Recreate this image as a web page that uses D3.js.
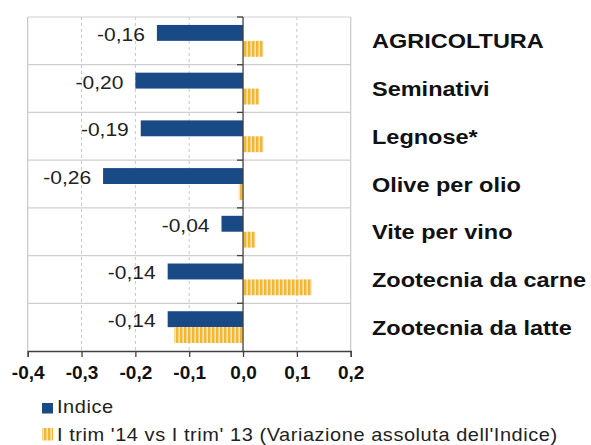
<!DOCTYPE html>
<html>
<head>
<meta charset="utf-8">
<script src="https://cdn.jsdelivr.net/npm/d3@7"></script>
<style>
  html, body { margin: 0; padding: 0; background: #fff; }
  svg { display: block; font-family: "Liberation Sans", Arial, sans-serif; }
</style>
</head>
<body>
<svg id="chart" width="591" height="445"></svg>
<script>
const categories = ["AGRICOLTURA", "Seminativi", "Legnose*", "Olive per olio", "Vite per vino", "Zootecnia da carne", "Zootecnia da latte"];
const indice = [-0.16, -0.20, -0.19, -0.26, -0.04, -0.14, -0.14];
const variazione = [0.038, 0.030, 0.038, -0.008, 0.023, 0.128, -0.128];
const indiceLabels = ["-0,16", "-0,20", "-0,19", "-0,26", "-0,04", "-0,14", "-0,14"];
const xTicks = [-0.4, -0.3, -0.2, -0.1, 0.0, 0.1, 0.2];
const seriesNames = ["Indice", "I trim '14 vs I trim' 13 (Variazione assoluta dell'Indice)"];

const BLUE = "#1a4a86";
const YELLOW = "#f2b535";

const svg = d3.select("#chart");

// hatch pattern
const defs = svg.append("defs");
const pat = defs.append("pattern")
  .attr("id", "vhatch").attr("patternUnits", "userSpaceOnUse")
  .attr("width", 4).attr("height", 10);
pat.append("rect").attr("width", 4).attr("height", 10).attr("fill", "#fbe6b4");
pat.append("rect").attr("width", 2.4).attr("height", 10).attr("fill", YELLOW);

const pLeft = 27.7, pRight = 350.7, pTop = 17, pBottom = 351;

const x = d3.scaleLinear().domain([-0.4, 0.2]).range([pLeft, pRight]);
const y = d3.scaleBand().domain(categories).range([pTop, pBottom]).padding(0);
const ySub = d3.scaleBand().domain(["indice", "var"]).range([0, y.bandwidth()]).paddingInner(0).paddingOuter(0.5);

// vertical gridlines (dashed)
svg.append("g").selectAll("line")
  .data(xTicks.filter(t => t > -0.4 && t < 0.2 && t !== 0))
  .join("line")
  .attr("x1", d => x(d)).attr("x2", d => x(d))
  .attr("y1", pTop).attr("y2", pBottom)
  .attr("stroke", "#c8c8c8").attr("stroke-width", 1).attr("stroke-dasharray", "3,3");

// horizontal band lines
const bounds = categories.map(c => y(c));
svg.append("g").selectAll("line")
  .data(bounds)
  .join("line")
  .attr("x1", pLeft).attr("x2", pRight)
  .attr("y1", d => d).attr("y2", d => d)
  .attr("stroke", "#cfcfcf").attr("stroke-width", 1.2);

// left & right borders
svg.append("line").attr("x1", pLeft).attr("x2", pLeft).attr("y1", pTop).attr("y2", pBottom)
  .attr("stroke", "#c8c8c8").attr("stroke-width", 1.2);
svg.append("line").attr("x1", pRight).attr("x2", pRight).attr("y1", pTop).attr("y2", pBottom)
  .attr("stroke", "#c8c8c8").attr("stroke-width", 1.2);

// bars
const g = svg.append("g");
g.selectAll("rect.ind")
  .data(categories)
  .join("rect").attr("class", "ind")
  .attr("x", (c, i) => x(Math.min(0, indice[i])))
  .attr("width", (c, i) => Math.abs(x(indice[i]) - x(0)))
  .attr("y", c => y(c) + ySub("indice"))
  .attr("height", ySub.bandwidth())
  .attr("fill", BLUE);

g.selectAll("rect.var")
  .data(categories)
  .join("rect").attr("class", "var")
  .attr("x", (c, i) => x(Math.min(0, variazione[i])))
  .attr("width", (c, i) => Math.abs(x(variazione[i]) - x(0)))
  .attr("y", c => y(c) + ySub("var"))
  .attr("height", ySub.bandwidth())
  .attr("fill", "url(#vhatch)");

// zero axis line with ticks at band boundaries
svg.append("line").attr("x1", x(0)).attr("x2", x(0)).attr("y1", pTop).attr("y2", pBottom)
  .attr("stroke", "#404040").attr("stroke-width", 1.3);
svg.append("g").selectAll("line")
  .data(bounds)
  .join("line")
  .attr("x1", x(0) - 6).attr("x2", x(0))
  .attr("y1", d => d).attr("y2", d => d)
  .attr("stroke", "#404040").attr("stroke-width", 1.3);

// bottom axis
const xAxis = svg.append("g")
  .attr("transform", `translate(0,${pBottom})`)
  .call(d3.axisBottom(x).tickValues(xTicks).tickSize(6).tickPadding(9)
    .tickFormat(d => d3.format(".1f")(d).replace(".", ",").replace("−", "-")));
xAxis.select(".domain").attr("stroke", "#404040").attr("stroke-width", 1.3);
xAxis.selectAll(".tick line").attr("stroke", "#404040").attr("stroke-width", 1.3);
xAxis.selectAll(".tick text")
  .attr("font-family", "Liberation Sans, Arial, sans-serif")
  .attr("font-size", 19).attr("font-weight", "bold").attr("fill", "#111");

// value labels
svg.append("g").selectAll("text")
  .data(categories)
  .join("text")
  .attr("transform", (c, i) => `translate(${x(indice[i]) - 12},${y(c) + ySub("indice") + ySub.bandwidth() / 2 + 8}) scale(1,0.87)`)
  .attr("text-anchor", "end")
  .attr("font-size", 21)
  .attr("fill", "#222")
  .text((c, i) => indiceLabels[i]);

// category labels
svg.append("g").selectAll("text")
  .data(categories)
  .join("text")
  .attr("transform", c => `translate(372,${y(c) + y.bandwidth() / 2 + 7.5}) scale(1,0.87)`)
  .attr("font-size", 23.5)
  .attr("font-weight", "bold")
  .attr("fill", "#111")
  .text(c => c);

// legend
const lg = svg.append("g");
lg.append("rect").attr("x", 42).attr("y", 403).attr("width", 11).attr("height", 10.5).attr("fill", BLUE);
lg.append("text").attr("transform", "translate(57,413.3) scale(1,0.9)")
  .attr("font-size", 20).attr("letter-spacing", 0.55).attr("fill", "#222").text(seriesNames[0]);
lg.append("rect").attr("x", 42).attr("y", 428).attr("width", 11).attr("height", 12.5).attr("fill", "url(#vhatch)");
lg.append("text").attr("transform", "translate(57,440.5) scale(1,0.9)")
  .attr("font-size", 20).attr("letter-spacing", 0.55).attr("fill", "#222").text(seriesNames[1]);
</script>
</body>
</html>
